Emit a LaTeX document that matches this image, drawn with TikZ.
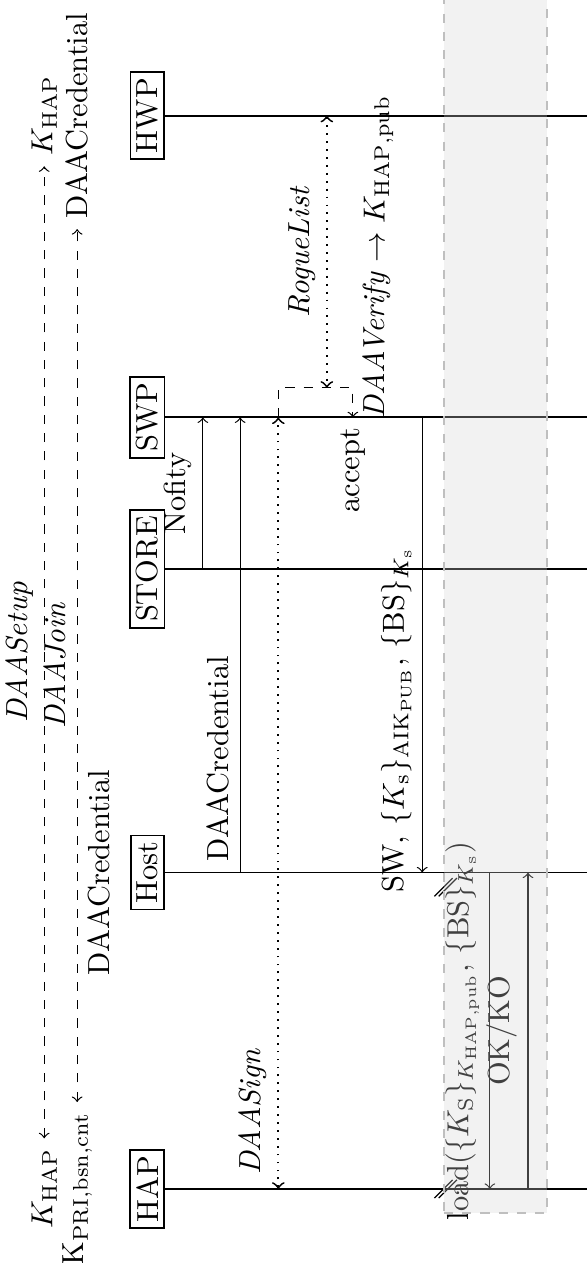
\documentclass[tikz,border=0pt]{standalone}
\usepackage{amsmath}

\begin{document}
\begin{tikzpicture}[rotate=90, transform shape,
  actor/.style={draw, semithick, inner sep=2pt},
  life/.style={semithick},
  msg/.style={->},
  phase/.style={<->, dashed},
  proto/.style={<->, dotted, semithick}]
  \useasboundingbox (-0.854,-5.07) rectangle (13.714,1.70);

  \node[actor] (hap) at (0,0) {HAP};
  \node[actor] (host) at (3.65,0) {Host};
  \node[actor] (store) at (7.15,0) {STORE};
  \node[actor] (swp) at (8.9,0) {SWP};
  \node[actor] (hwp) at (12.38,0) {HWP};

  \foreach \a in {hap,host,store,swp,hwp}
    \draw[life] (\a) -- (\a |- 0,-5.3);

  \node (khapl) at (0,1.19) {$K_{\mathrm{HAP}}$};
  \node (khapr) at (12.38,1.19) {$K_{\mathrm{HAP}}$};
  \draw[phase] (khapl) -- node[above] (setup) {\textit{DAASetup}} (khapr);

  \node (kpri) at (0,0.81) {$\mathrm{K}_{\mathrm{PRI,bsn,cnt}}$};
  \node (credr) at (12.38,0.81) {DAACredential};
  \draw[phase] (kpri) -- node[above] (join) {\textit{DAAJoin}} (credr);
  \node[below] (credl) at (host |- kpri) {DAACredential};

  \draw[msg] (store |- 0,-0.64) -- node[above] (notify) {Nofity} (swp |- 0,-0.64);
  \draw[msg] (host |- 0,-1.07) -- node[above, pos=0.25] (credmsg) {DAACredential} (swp |- 0,-1.07);
  \draw[proto] (hap |- 0,-1.51) -- node[above, pos=0.1] (sign) {\textit{DAASign}} (swp |- 0,-1.51);

  \coordinate (loopa) at (9.24,-1.51);
  \coordinate (loopb) at (9.24,-2.37);
  \draw[dashed, ->] (swp |- loopa) -- (loopa) -- (loopb) -- (swp |- loopb) node[left] (accept) {accept};
  \draw[proto] (hwp |- 0,-2.07) -- node[above] (rogue) {\textit{RogueList}} (loopa |- 0,-2.07);
  \node (verify) at (10.75,-2.66) {\textit{DAAVerify} $\rightarrow K_{\mathrm{HAP,pub}}$};

  \draw[msg] (swp |- 0,-3.17) -- node[above, pos=0.665] (swmsg) {SW, $\{K_\mathrm{s}\}_{\mathrm{AIK}_\mathrm{PUB}}$, $\{\mathrm{BS}\}_{K_\mathrm{s}}$} (host |- 0,-3.17);
  \draw[msg] (host |- 0,-3.95) -- node[above] (load) {load($\{K_\mathrm{S}\}_{K_{\mathrm{HAP,pub}}}$, $\{\mathrm{BS}\}_{K_\mathrm{s}}$)} (hap |- 0,-3.95);
  \draw[msg] (hap |- 0,-4.39) -- node[above] (okko) {OK/KO} (host |- 0,-4.39);

  \foreach \bx in {0,3.48}
    \foreach \by in {-3.415,-3.465}
      \draw (\bx,\by) ++(-0.105,0.105) -- ++(0.21,-0.21);

  \draw[gray!50, thick, dashed, fill=black!17, fill opacity=0.3] (-0.28,-3.42) rectangle (14.2,-4.61);
\end{tikzpicture}
\end{document}
